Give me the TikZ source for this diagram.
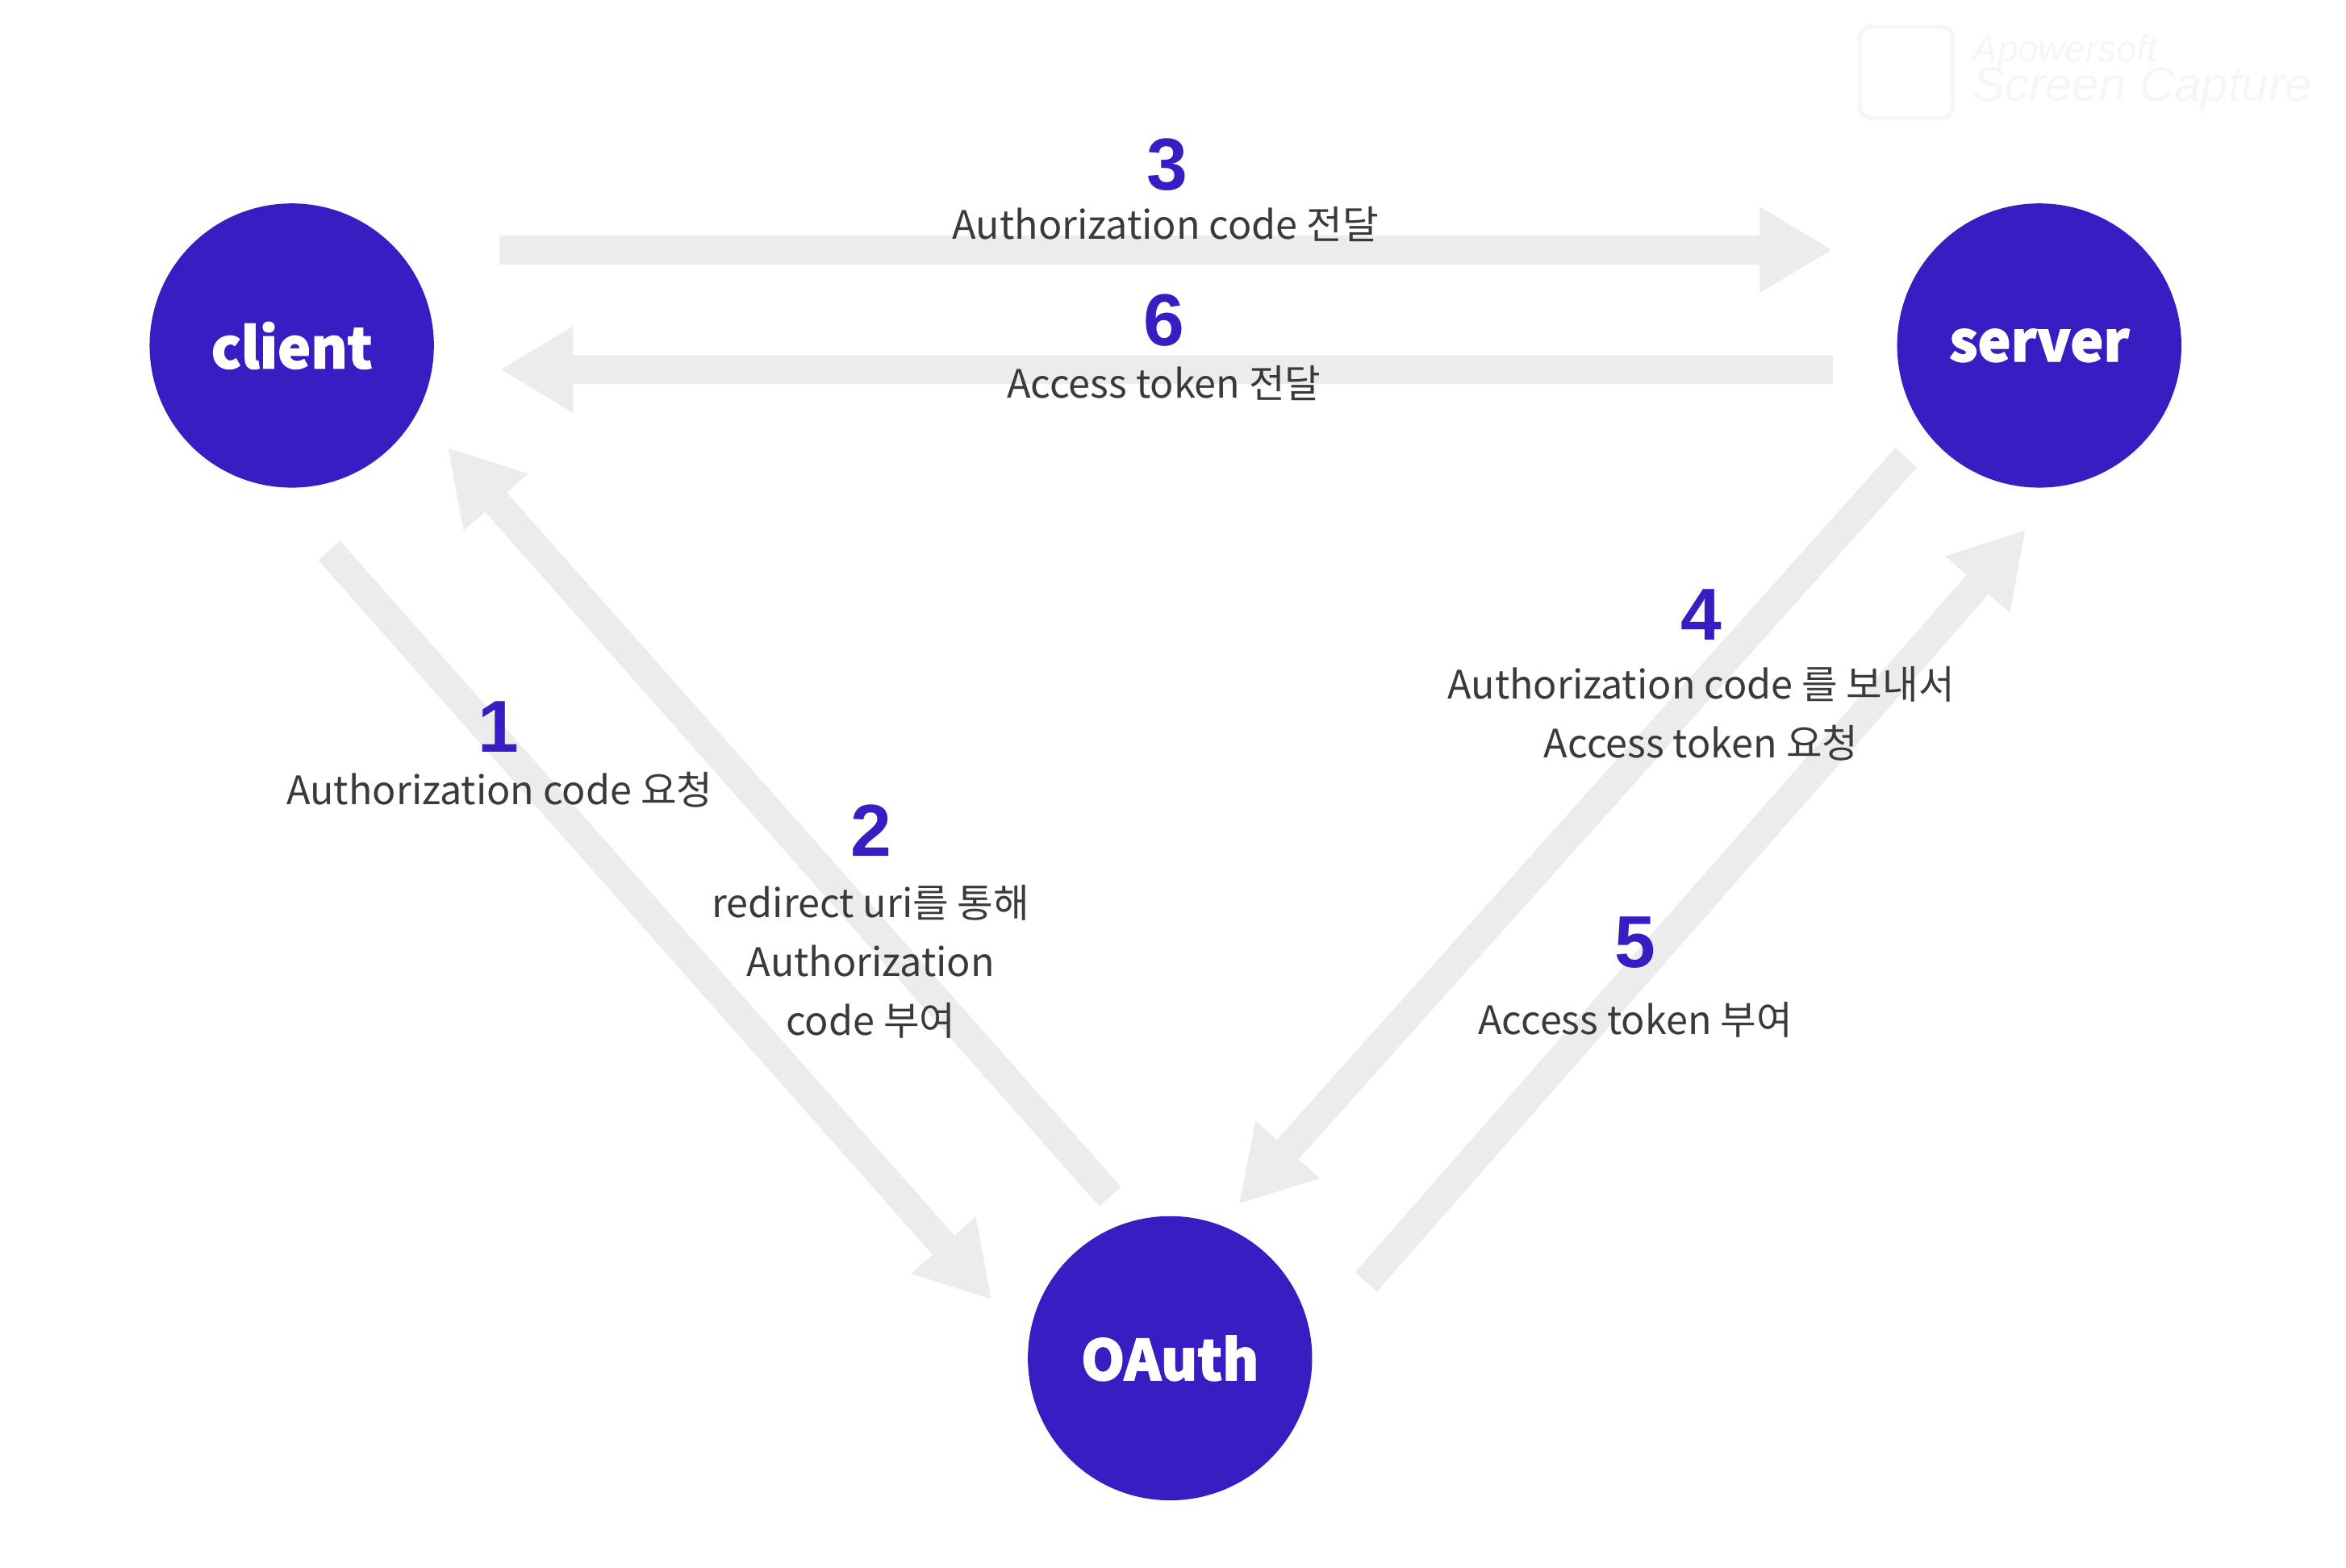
\documentclass[tikz,border=0pt]{standalone}
\usepackage{fontspec}
\setmainfont{Liberation Sans}
\newfontfamily\krfont{Noto Sans CJK KR}
\newfontfamily\krheavy[FakeBold=2]{Noto Sans CJK KR}
\usetikzlibrary{arrows.meta}
\definecolor{oauthblue}{HTML}{391DC2}
\definecolor{flowgray}{HTML}{ECECEC}
\definecolor{labelgray}{HTML}{3A3A3A}
\definecolor{wmark}{HTML}{F6F6F6}
\tikzset{
  party/.style={circle, fill=oauthblue, minimum size=1.9cm, inner sep=0pt,
    text=white, font=\krheavy\bfseries\fontsize{10.6}{12}\selectfont},
  flow/.style={draw=flowgray, line width=1.95mm, -{Triangle[length=4.9mm, width=5.4mm]}},
  stepnum/.style={text=oauthblue, inner sep=0pt, font=\bfseries\fontsize{14}{16}\selectfont},
  lab/.style={text=labelgray, inner sep=0pt, align=center, font=\krfont\fontsize{7.45}{11.2}\selectfont},
  wm/.style={text=wmark, inner sep=0pt, anchor=west, font=\itshape},
}

\begin{document}
\begin{tikzpicture}[x=0.1mm, y=-0.1mm]
  \useasboundingbox (0,0) rectangle (1568,1048);

  % watermark, top right
  \draw[wmark, line width=0.8pt, rounded corners=2pt] (1243,18) rectangle (1305,79);
  \node[wm, font=\itshape\fontsize{7}{8}\selectfont] (wmtop) at (1318,35) {Apowersoft};
  \node[wm, font=\itshape\fontsize{9.2}{10}\selectfont] (wmbot) at (1318,60) {Screen Capture};

  \node[party] (client) at (195,231) {client};
  \node[party] (server) at (1363,231) {server};
  \node[party] (oauth) at (782,908) {OAuth};

  \coordinate (s3) at (334,167);    % to server
  \coordinate (e3) at (1225,167);
  \coordinate (s6) at (1225,247);   % back to client
  \coordinate (e6) at (334,247);
  \coordinate (s1) at (220,368);    % client down to OAuth
  \coordinate (e1) at (663,869);
  \coordinate (s2) at (742,800);    % OAuth up to client
  \coordinate (e2) at (299,299);
  \coordinate (s4) at (1274,306);   % server down to OAuth
  \coordinate (e4) at (828,805);
  \coordinate (s5) at (913,857);    % OAuth up to server
  \coordinate (e5) at (1354,354);

  \draw[flow] (s3)--(e3);
  \draw[flow] (s6)--(e6);
  \draw[flow] (s1)--(e1);
  \draw[flow] (s2)--(e2);
  \draw[flow] (s4)--(e4);
  \draw[flow] (s5)--(e5);

  \node[stepnum] (n3) at (780,110) {3};
  \node[lab] (t3) at (779,150) {Authorization code 전달};
  \node[stepnum] (n6) at (778,214) {6};
  \node[lab] (t6) at (778,256) {Access token 전달};

  \node[stepnum] (n1) at (333,486) {1};
  \node[lab] (t1) at (334,528) {Authorization code 요청};
  \node[stepnum] (n2) at (582,555) {2};
  \node[lab] (t2) at (582,643) {redirect uri를 통해\\Authorization\\code 부여};

  \node[stepnum] (n4) at (1137,411) {4};
  \node[lab] (t4) at (1137,477) {Authorization code 를 보내서\\Access token 요청};
  \node[stepnum] (n5) at (1093,630) {5};
  \node[lab] (t5) at (1093,682) {Access token 부여};
\end{tikzpicture}
\end{document}
